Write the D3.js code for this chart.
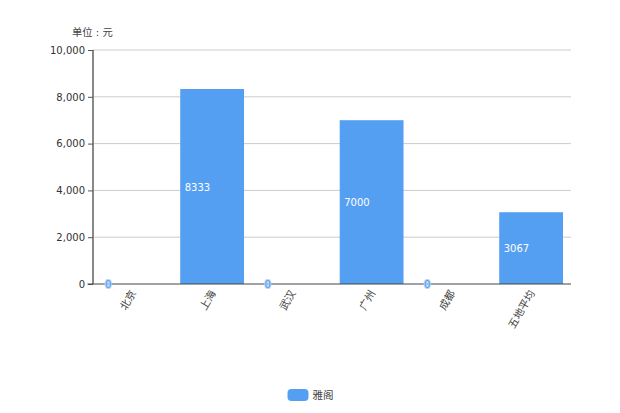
<!DOCTYPE html>
<html><head><meta charset="utf-8">
<script src="https://cdn.jsdelivr.net/npm/d3@7/dist/d3.min.js"></script>
<style>html,body{margin:0;padding:0;background:#fff}svg{display:block}
text{font-family:"DejaVu Sans","Noto Sans CJK SC",sans-serif}</style>
</head><body><svg id="c" width="620" height="413"></svg>
<script>
const categories = ["北京","上海","武汉","广州","成都","五地平均"];
const values = [0,8333,0,7000,0,3067];
const yTicks = [0,2000,4000,6000,8000,10000];
const seriesName = "雅阁";
const unitLabel = "单位 : 元";
const barColor = "#559ff2";

const svg = d3.select("#c");
const m = {l:92.5,r:571,t:50,b:284};
const x = d3.scaleBand().domain(categories).range([m.l,m.r]).paddingInner(0).paddingOuter(0);
const y = d3.scaleLinear().domain([0,10000]).range([m.b,m.t]);
const barW = x.bandwidth()*0.8;
const bx = d => x(d)+x.bandwidth()/2-barW/2;

svg.append("g").selectAll("line").data(yTicks.slice(1)).join("line")
  .attr("x1",m.l).attr("x2",m.r).attr("y1",d=>y(d)).attr("y2",d=>y(d))
  .attr("stroke","#ccc").attr("stroke-width",1);

svg.append("g").selectAll("rect").data(categories).join("rect")
  .attr("x",bx).attr("width",barW)
  .attr("y",(d,i)=>y(values[i])).attr("height",(d,i)=>y(0)-y(values[i]))
  .attr("fill",barColor);

const yAxis = d3.axisLeft(y).tickValues(yTicks).tickSize(5).tickPadding(3).tickFormat(d3.format(","));
const gy = svg.append("g").attr("transform",`translate(${m.l+.5},0)`).call(yAxis);
gy.select(".domain").attr("stroke","#888").attr("stroke-width",2).attr("d",`M0,${m.b}V${m.t}`);
gy.selectAll(".tick line").attr("stroke","#555");
gy.selectAll("text").attr("fill","#333").attr("font-size",10);

svg.append("line").attr("x1",m.l-5).attr("x2",m.r).attr("y1",m.b).attr("y2",m.b).attr("stroke","#444");

svg.append("g").selectAll("text").data(categories).join("text")
  .attr("transform",d=>`translate(${x(d)+x.bandwidth()/2+1},${m.b+7}) rotate(-60)`)
  .attr("text-anchor","end").attr("dy","0.35em")
  .attr("font-size",10.5).attr("fill","#444").text(d=>d);

svg.append("g").selectAll("text").data(categories).join("text")
  .attr("x",d=>bx(d)+4.5)
  .attr("y",(d,i)=>(y(values[i])+y(0))/2+.5)
  .attr("dy","0.35em").attr("font-size",10)
  .attr("fill",(d,i)=>values[i]===0?barColor:"#fff")
  .attr("stroke",(d,i)=>values[i]===0?"#b4d4f9":"none")
  .attr("stroke-width",(d,i)=>values[i]===0?2:0)
  .attr("paint-order","stroke")
  .text((d,i)=>values[i]);

svg.append("text").attr("x",72).attr("y",36).attr("font-size",10.3).attr("fill","#444").text(unitLabel);

svg.append("rect").attr("x",287.5).attr("y",389).attr("width",21).attr("height",12).attr("rx",4).attr("fill",barColor);
svg.append("text").attr("x",312.5).attr("y",399).attr("font-size",10.5).attr("fill","#444").text(seriesName);
</script></body></html>
